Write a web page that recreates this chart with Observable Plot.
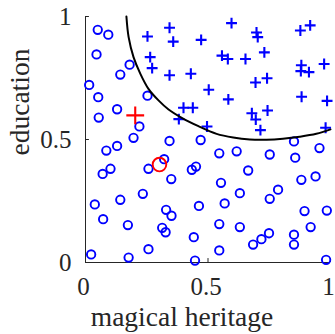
<!DOCTYPE html>
<html>
<head>
<meta charset="utf-8">
<script src="https://cdn.jsdelivr.net/npm/d3@7"></script>
<script src="https://cdn.jsdelivr.net/npm/@observablehq/plot@0.6"></script>
<style>
  html, body { margin: 0; padding: 0; background: #fff; }
</style>
</head>
<body>
<div id="chart"></div>
<script>
// class 0 (circles)
const circleX = [0.05,0.093,0.045,0.18,0.142,0.015,0.052,0.253,0.129,0.054,0.22,0.196,0.343,0.47,0.085,0.129,0.321,0.257,0.102,0.07,0.35,0.434,0.451,0.234,0.142,0.038,0.329,0.351,0.463,0.072,0.173,0.313,0.327,0.442,0.257,0.023,0.176,0.447,0.851,0.546,0.617,0.752,0.856,0.955,0.664,0.553,0.881,0.939,0.63,0.786,0.752,0.568,0.894,0.985,0.546,0.63,0.919,0.749,0.718,0.684,0.851,0.851,0.546,0.982];
const circleY = [0.946,0.926,0.846,0.804,0.764,0.722,0.672,0.678,0.623,0.589,0.553,0.507,0.494,0.498,0.455,0.474,0.42,0.381,0.381,0.36,0.339,0.377,0.39,0.279,0.255,0.236,0.214,0.19,0.23,0.176,0.152,0.141,0.123,0.103,0.054,0.033,0.02,0.008,0.492,0.444,0.452,0.439,0.426,0.465,0.374,0.324,0.336,0.35,0.282,0.296,0.259,0.24,0.209,0.211,0.156,0.144,0.144,0.119,0.095,0.073,0.113,0.073,0.049,0.011];
// class 1 (plus signs)
const plusX = [0.343,0.253,0.358,0.472,0.264,0.272,0.343,0.43,0.503,0.4,0.438,0.381,0.496,0.596,0.698,0.703,0.877,0.917,0.557,0.581,0.653,0.73,0.881,0.879,0.912,0.974,0.694,0.741,0.583,0.882,0.986,0.679,0.695,0.743,0.714,0.98];
const plusY = [0.954,0.919,0.898,0.905,0.835,0.79,0.761,0.767,0.702,0.629,0.629,0.583,0.553,0.973,0.935,0.916,0.943,0.964,0.841,0.827,0.827,0.854,0.802,0.778,0.774,0.807,0.732,0.749,0.663,0.674,0.657,0.607,0.581,0.618,0.538,0.548];
// highlighted points
const redPlusX = [0.203], redPlusY = [0.598];
const redCircleX = [0.302], redCircleY = [0.398];
// decision boundary
const curveX = [0.167,0.176,0.196,0.224,0.257,0.298,0.339,0.393,0.461,0.535,0.603,0.671,0.739,0.806,0.874,0.942,1.0];
const curveY = [1.0,0.916,0.835,0.767,0.706,0.659,0.622,0.588,0.554,0.523,0.508,0.5,0.499,0.503,0.511,0.523,0.541];
// ticks and labels
const xTicks = [0, 0.5, 1];
const yTicks = [0, 0.5, 1];
const xLabel = "magical heritage";
const yLabel = "education";

const zip = (xs, ys) => xs.map((x, i) => ({x, y: ys[i]}));
const circles = zip(circleX, circleY);
const pluses = zip(plusX, plusY);
const curve = zip(curveX, curveY);
const redPlus = zip(redPlusX, redPlusY);
const redCircle = zip(redCircleX, redCircleY);

const axisColor = "#262626";
const blue = "#0000ff";
const red = "#ff0000";

const chart = Plot.plot({
  width: 335,
  height: 334,
  marginLeft: 85,
  marginRight: 5,
  marginTop: 16,
  marginBottom: 72,
  x: {domain: [0, 1]},
  y: {domain: [0, 1]},
  style: {fontFamily: "'Liberation Serif', 'Times New Roman', serif", background: "white", overflow: "visible"},
  marks: [
    Plot.axisX({ticks: xTicks, tickSize: 0, tickPadding: 15, dx: -2, fontSize: 25, tickFormat: d => String(d), label: null, color: axisColor}),
    Plot.axisY({ticks: yTicks, tickSize: 0, tickPadding: 14, fontSize: 25, tickFormat: d => String(d), label: null, color: axisColor}),
    Plot.ruleY([0], {stroke: axisColor, strokeWidth: 1}),
    Plot.ruleX([0], {stroke: axisColor, strokeWidth: 1}),
    Plot.ruleX(xTicks, {x: d => d, y1: 0, y2: 0.016, stroke: axisColor}),
    Plot.ruleY(yTicks, {y: d => d, x1: 0, x2: 0.016, stroke: axisColor}),
    Plot.dot(circles, {x: "x", y: "y", r: 4.2, stroke: blue, strokeWidth: 1.9, fill: "none"}),
    Plot.dot(pluses, {x: "x", y: "y", symbol: "plus", r: 3.6, stroke: blue, strokeWidth: 2.1}),
    Plot.line(curve, {x: "x", y: "y", curve: "catmull-rom", stroke: "black", strokeWidth: 2}),
    Plot.dot(redCircle, {x: "x", y: "y", r: 6.8, stroke: red, strokeWidth: 1.9, fill: "none"}),
    Plot.dot(redPlus, {x: "x", y: "y", symbol: "plus", r: 5.8, stroke: red, strokeWidth: 2.1}),
    Plot.text([xLabel], {frameAnchor: "bottom", text: d => d, dx: -26, dy: 63, lineAnchor: "bottom", fontSize: 27.5, fill: axisColor}),
    Plot.text([yLabel], {frameAnchor: "left", text: d => d, rotate: -90, dx: -57, dy: 16, lineAnchor: "bottom", fontSize: 27.5, fill: axisColor})
  ]
});
document.getElementById("chart").appendChild(chart);
</script>
</body>
</html>
